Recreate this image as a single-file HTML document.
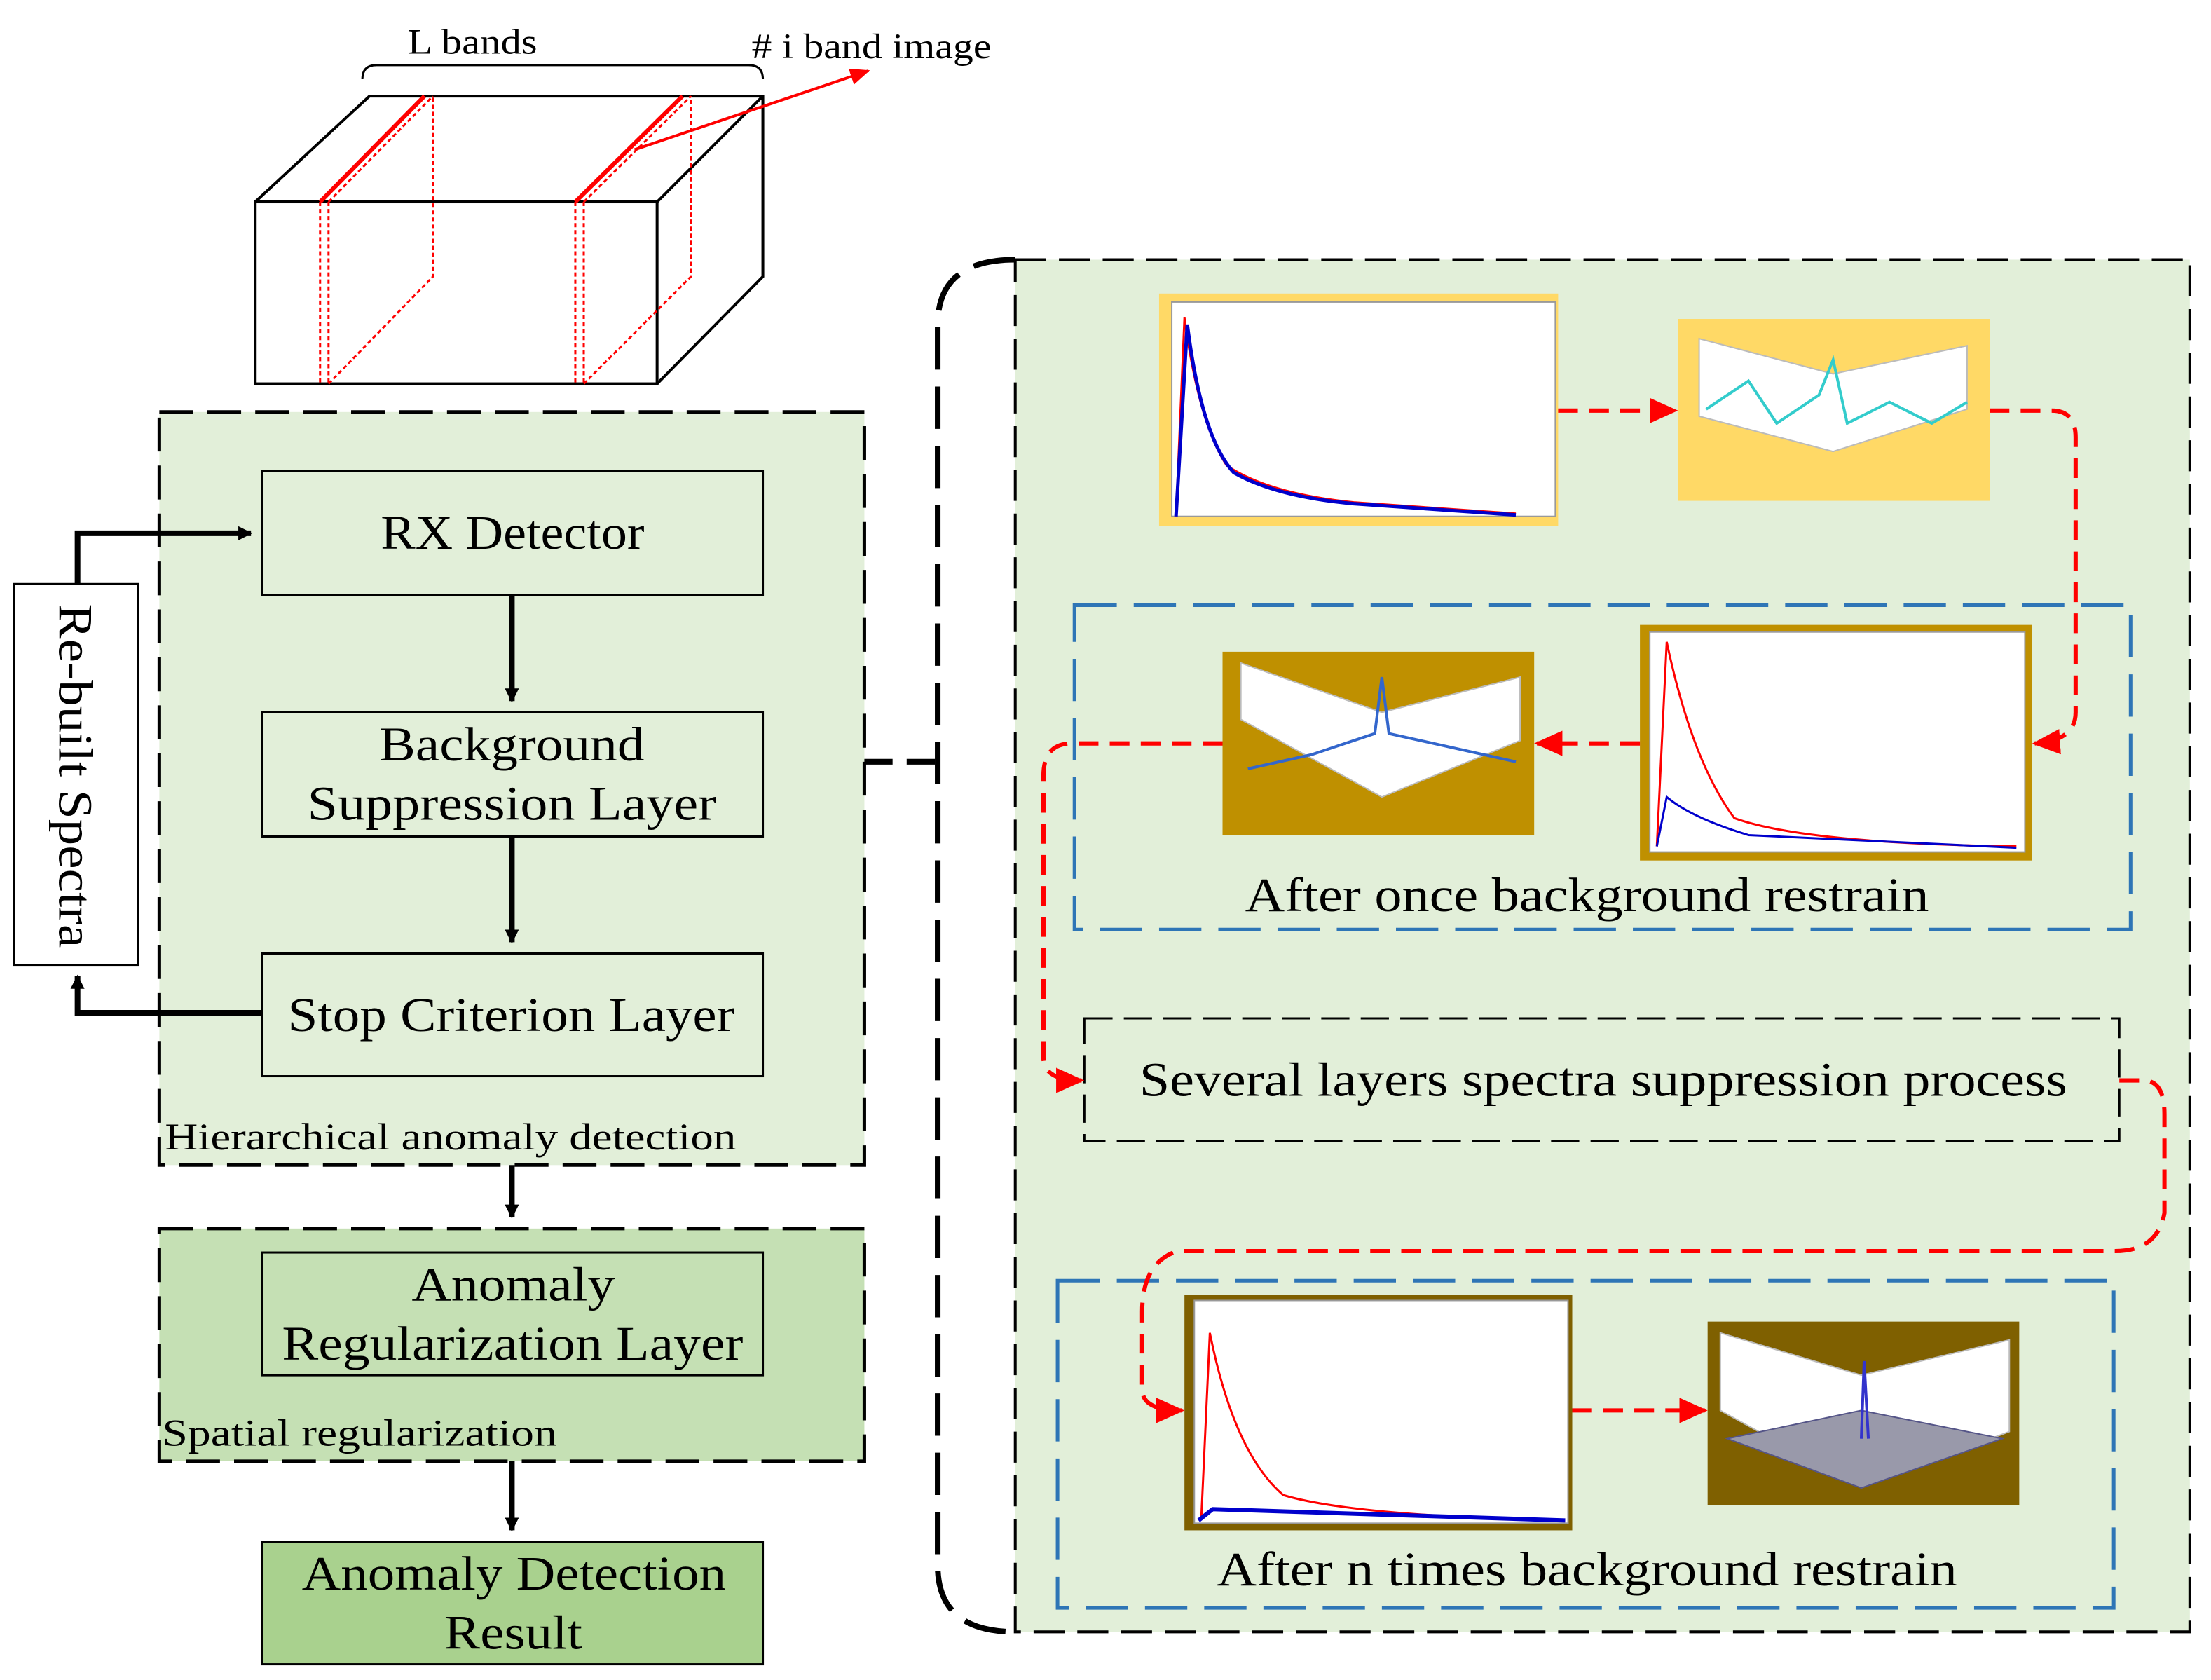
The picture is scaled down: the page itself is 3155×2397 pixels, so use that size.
<!DOCTYPE html>
<html><head><meta charset="utf-8"><style>html,body{margin:0;padding:0;background:#fff}svg{display:block}</style></head><body>
<svg width="3155" height="2397" viewBox="0 0 1568 1191" xmlns="http://www.w3.org/2000/svg" font-family="Liberation Serif, serif">
<defs>
<marker id="ab" markerWidth="10" markerHeight="10" refX="9" refY="5" orient="auto" markerUnits="userSpaceOnUse"><path d="M0,0 L10,5 L0,10z" fill="#000"/></marker>
<marker id="ar" markerWidth="20" markerHeight="18" refX="18" refY="9" orient="auto" markerUnits="userSpaceOnUse"><path d="M0,0 L20,9 L0,18z" fill="red"/></marker>
<marker id="ar2" markerWidth="14" markerHeight="12" refX="13" refY="6" orient="auto" markerUnits="userSpaceOnUse"><path d="M0,0 L14,6 L0,12z" fill="red"/></marker>
</defs>
<!-- cube -->
<g stroke="#000" stroke-width="2" fill="none">
<rect x="181" y="143" width="285" height="129"/>
<path d="M181,143 L262,68 L541,68 L541,196 L466,272 M466,143 L541,68"/>
<path d="M257,56 Q257,46 267,46 L531,46 Q541,46 541,56" stroke-width="1.5"/>
</g>
<g stroke="red" stroke-width="1.5" fill="none" stroke-dasharray="3,2">
<path d="M227,143 L227,272 M233,143 L233,272 M227,143 L301,68 M233,143 L307,68 M233,272 L307,196 L307,68"/>
<path d="M408,143 L408,272 M414,143 L414,272 M408,143 L484,68 M414,143 L490,68 M414,272 L490,196 L490,68"/>
</g>
<path d="M227,143 L301,68 M408,143 L484,68" stroke="red" stroke-width="3"/>
<line x1="450" y1="106" x2="616" y2="50" stroke="red" stroke-width="2" marker-end="url(#ar2)"/>
<text x="289" y="38" font-size="25" textLength="92" lengthAdjust="spacingAndGlyphs">L bands</text>
<text x="533" y="41" font-size="25" textLength="170" lengthAdjust="spacingAndGlyphs"># i band image</text>
<!-- left panels -->
<rect x="113" y="292" width="500" height="534" fill="#e2efd9" stroke="#000" stroke-width="2.5" stroke-dasharray="24,10"/>
<g fill="#e2efd9" stroke="#000" stroke-width="1.5">
<rect x="186" y="334" width="355" height="88"/>
<rect x="186" y="505" width="355" height="88"/>
<rect x="186" y="676" width="355" height="87"/>
</g>
<g font-size="34" lengthAdjust="spacingAndGlyphs">
<text x="270" y="389" textLength="187" lengthAdjust="spacingAndGlyphs">RX Detector</text>
<text x="269" y="539" textLength="188" lengthAdjust="spacingAndGlyphs">Background</text>
<text x="218" y="581" textLength="290" lengthAdjust="spacingAndGlyphs">Suppression Layer</text>
<text x="204" y="731" textLength="317" lengthAdjust="spacingAndGlyphs">Stop Criterion Layer</text>
</g>
<text x="117" y="815" font-size="27" textLength="405" lengthAdjust="spacingAndGlyphs">Hierarchical anomaly detection</text>
<rect x="10" y="414" width="88" height="270" fill="#fff" stroke="#000" stroke-width="1.5"/>
<text transform="translate(42,428) rotate(90)" font-size="34" textLength="244" lengthAdjust="spacingAndGlyphs">Re-built Spectra</text>
<g stroke="#000" stroke-width="4" fill="none">
<path d="M55,414 L55,378 L178,378" marker-end="url(#ab)"/>
<path d="M186,718 L55,718 L55,692" marker-end="url(#ab)"/>
<path d="M363,422 L363,497" marker-end="url(#ab)"/>
<path d="M363,593 L363,668" marker-end="url(#ab)"/>
<path d="M363,826 L363,863" marker-end="url(#ab)"/>
<path d="M363,1036 L363,1085" marker-end="url(#ab)"/>
</g>
<rect x="113" y="871" width="500" height="165" fill="#c5e0b4" stroke="#000" stroke-width="2.5" stroke-dasharray="24,10"/>
<rect x="186" y="888" width="355" height="87" fill="#c5e0b4" stroke="#000" stroke-width="1.5"/>
<text x="292" y="922" font-size="34" textLength="144" lengthAdjust="spacingAndGlyphs">Anomaly</text>
<text x="200" y="964" font-size="34" textLength="327" lengthAdjust="spacingAndGlyphs">Regularization Layer</text>
<text x="115" y="1025" font-size="27" textLength="280" lengthAdjust="spacingAndGlyphs">Spatial regularization</text>
<rect x="186" y="1093" width="355" height="87" fill="#a9d18e" stroke="#000" stroke-width="1.5"/>
<text x="214" y="1127" font-size="34" textLength="301" lengthAdjust="spacingAndGlyphs">Anomaly Detection</text>
<text x="315" y="1169" font-size="34" textLength="98" lengthAdjust="spacingAndGlyphs">Result</text>
<!-- right panel -->
<rect x="720" y="184" width="833" height="973" fill="#e2efd9" stroke="#000" stroke-width="2" stroke-dasharray="22,9"/>
<path d="M720,184 Q665,184 665,230 L665,1110 Q665,1157 720,1157" fill="none" stroke="#000" stroke-width="4" stroke-dasharray="30,12"/>
<path d="M613,540 L665,540" stroke="#000" stroke-width="4" stroke-dasharray="20,10"/>
<!-- chart 1 -->
<rect x="822" y="208" width="283" height="165" fill="#ffd966"/>
<rect x="831" y="214" width="272" height="152" fill="#fff" stroke="#999"/>
<path d="M834,366 L840,225 Q850,300 870,330 Q900,350 960,356 L1075,364" fill="none" stroke="red" stroke-width="1.5"/>
<path d="M834,366 L842,230 Q852,310 875,335 Q905,352 960,357 L1075,365" fill="none" stroke="#0000cc" stroke-width="2.5"/>
<!-- 3D 1 -->
<rect x="1190" y="226" width="221" height="129" fill="#ffd966"/>
<path d="M1205,295 L1300,320 L1395,290 L1395,245 L1300,265 L1205,240z" fill="#fff" stroke="#bbb"/>
<path d="M1210,290 L1240,270 L1260,300 L1290,280 L1300,255 L1310,300 L1340,285 L1370,300 L1395,285" fill="none" stroke="#3cc" stroke-width="2"/>
<!-- blue box 1 -->
<rect x="762" y="429" width="749" height="230" fill="none" stroke="#2e75b6" stroke-width="2.5" stroke-dasharray="30,12"/>
<rect x="867" y="462" width="221" height="130" fill="#bf9000"/>
<path d="M880,510 L980,565 L1078,525 L1078,480 L980,505 L880,470z" fill="#fff" stroke="#bbb"/>
<path d="M885,545 L930,535 L975,520 L980,480 L985,520 L1030,530 L1075,540" fill="none" stroke="#36c" stroke-width="2"/>
<rect x="1163" y="443" width="278" height="167" fill="#bf9000"/>
<rect x="1170" y="448" width="266" height="156" fill="#fff" stroke="#999"/>
<path d="M1175,600 L1182,455 Q1200,540 1230,580 Q1280,598 1430,600" fill="none" stroke="red" stroke-width="1.5"/>
<path d="M1175,600 L1182,565 Q1200,580 1240,592 L1430,601" fill="none" stroke="#0000cc" stroke-width="1.5"/>
<text x="883" y="646" font-size="34" textLength="485" lengthAdjust="spacingAndGlyphs">After once background restrain</text>
<!-- several layers -->
<rect x="769" y="722" width="734" height="87" fill="none" stroke="#000" stroke-width="1.5" stroke-dasharray="20,8"/>
<text x="808" y="777" font-size="34" textLength="658" lengthAdjust="spacingAndGlyphs">Several layers spectra suppression process</text>
<!-- blue box 2 -->
<rect x="750" y="908" width="749" height="232" fill="none" stroke="#2e75b6" stroke-width="2.5" stroke-dasharray="30,12"/>
<rect x="840" y="918" width="275" height="167" fill="#7f6000"/>
<rect x="847" y="922" width="265" height="158" fill="#fff" stroke="#999"/>
<path d="M852,1075 L858,945 Q875,1030 910,1060 Q960,1075 1110,1078" fill="none" stroke="red" stroke-width="1.5"/>
<path d="M850,1078 L860,1070 L1110,1078" fill="none" stroke="#0000cc" stroke-width="3"/>
<rect x="1211" y="937" width="221" height="130" fill="#7f6000"/>
<path d="M1220,1000 L1320,1055 L1425,1015 L1425,950 L1320,975 L1220,945z" fill="#fff" stroke="#bbb"/>
<path d="M1225,1020 L1320,1055 L1420,1020 L1320,1000z" fill="#99a" stroke="#558"/>
<path d="M1320,1020 L1322,965 L1325,1020" fill="none" stroke="#33c" stroke-width="2"/>
<text x="863" y="1124" font-size="34" textLength="525" lengthAdjust="spacingAndGlyphs">After n times background restrain</text>
<!-- red connectors -->
<g fill="none" stroke="red" stroke-width="3" stroke-dasharray="14,8">
<path d="M1105,291 L1188,291" marker-end="url(#ar)"/>
<path d="M1411,291 L1455,291 Q1472,291 1472,310 L1472,505 Q1472,525 1443,527" marker-end="url(#ar)"/>
<path d="M1163,527 L1090,527" marker-end="url(#ar)"/>
<path d="M867,527 L760,527 Q740,527 740,550 L740,750 Q740,766 767,766" marker-end="url(#ar)"/>
<path d="M1503,766 L1520,766 Q1535,766 1535,790 L1535,860 Q1530,887 1500,887 L835,887 Q810,895 810,930 L810,985 Q810,1000 838,1000" marker-end="url(#ar)"/>
<path d="M1115,1000 L1209,1000" marker-end="url(#ar)"/>
</g>
</svg>
</body></html>
